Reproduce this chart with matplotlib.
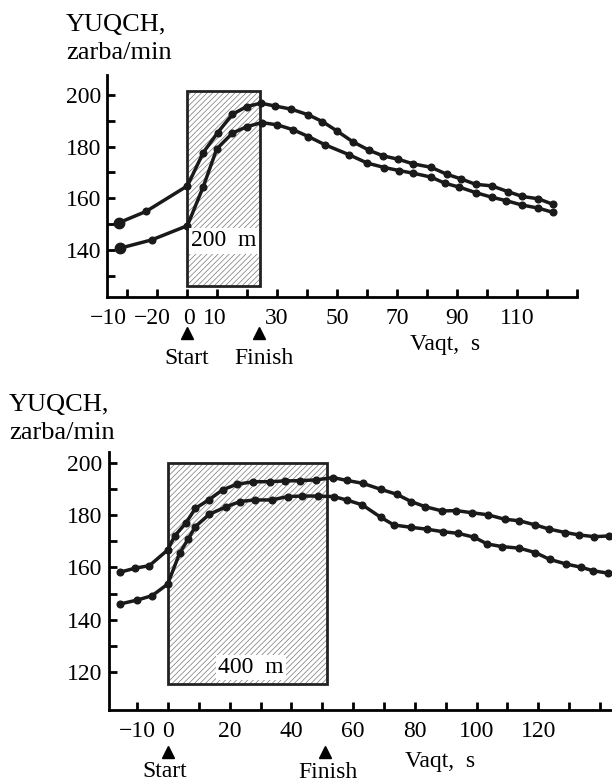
import numpy as np
import matplotlib
matplotlib.use("Agg")
import matplotlib.pyplot as plt
from matplotlib.patches import Rectangle

plt.rcParams['font.family'] = ['Liberation Serif', 'DejaVu Serif']
plt.rcParams['hatch.linewidth'] = 0.5

# ---- 200 m chart data ----
t200_up = [-22.6, -13.7, 0.1, 5.4, 10.2, 15.1, 19.9, 24.6, 29.3, 34.7, 40.4, 45.1, 49.9,
           55.2, 60.8, 65.4, 70.4, 75.4, 81.3, 86.6, 91.3, 96.2, 101.6, 106.9, 111.8,
           117.1, 121.9]
hr200_up = [150.6, 154.9, 164.8, 177.7, 185.4, 192.5, 195.5, 196.8, 195.7, 194.5, 192.3,
            189.7, 186.1, 181.9, 178.5, 176.4, 175.1, 173.3, 172.0, 169.3, 167.5, 165.4,
            164.8, 162.6, 160.7, 159.8, 157.7]
t200_lo = [-22.3, -11.8, 0.1, 5.4, 9.9, 15.1, 19.9, 24.9, 30.1, 35.4, 40.4, 46.0, 54.1,
           60.1, 65.8, 70.8, 75.4, 81.3, 86.0, 90.8, 96.2, 101.6, 106.3, 111.6, 117.1,
           122.1]
hr200_lo = [140.7, 143.9, 149.4, 164.5, 179.1, 185.2, 187.7, 189.3, 188.4, 186.5, 183.9,
            180.7, 176.8, 173.6, 171.9, 170.7, 169.7, 168.2, 165.8, 164.3, 162.2, 160.4,
            159.1, 157.4, 156.2, 154.5]
xlab200 = ['\u221210', '\u221220', '0', '10', '30', '50', '70', '90', '110']
xlabpos200 = [-26.3, -11.7, 0.5, 9.3, 30, 50, 70, 90, 110]

# ---- 400 m chart data ----
t400_up = [-15.5, -10.7, -6.0, -0.1, 2.2, 5.9, 8.9, 13.2, 17.7, 22.3, 27.7, 33.1, 37.9,
           42.7, 48.1, 53.5, 57.9, 63.1, 68.9, 74.1, 78.8, 83.4, 88.8, 93.5, 98.5, 103.7,
           109.1, 113.9, 119.1, 123.6, 128.8, 133.1, 138.2, 143.0]
hr400_up = [158.2, 159.7, 160.7, 166.7, 172.1, 177.2, 182.7, 185.9, 189.8, 191.9, 192.9,
            192.9, 193.2, 193.3, 193.6, 194.5, 193.4, 192.3, 190.0, 188.1, 185.3, 183.3,
            181.7, 181.8, 181.0, 180.2, 178.5, 177.9, 176.3, 174.7, 173.4, 172.5, 171.8,
            172.1]
t400_lo = [-15.5, -9.9, -5.1, -0.1, 3.8, 6.5, 8.9, 13.4, 18.9, 23.4, 28.2, 33.6, 38.8,
           43.5, 48.5, 53.7, 57.9, 63.0, 68.9, 73.2, 78.8, 83.8, 89.2, 94.0, 99.2, 103.5,
           108.3, 113.9, 119.1, 123.7, 129.1, 133.8, 137.9, 142.7]
hr400_lo = [146.0, 147.5, 149.2, 153.6, 165.5, 170.8, 175.7, 180.4, 183.3, 185.3, 185.9,
            185.9, 187.2, 187.4, 187.4, 187.2, 185.9, 184.0, 179.3, 176.3, 175.4, 174.7,
            173.7, 173.1, 171.6, 169.0, 168.0, 167.4, 165.7, 163.1, 161.3, 160.1, 158.7,
            157.8]
xt400 = list(range(-10, 141, 10))
xlab400 = ['\u221210', '0', '', '20', '', '40', '', '60', '', '80', '', '100', '', '120', '', '']

W, H = 612, 784
fig = plt.figure(figsize=(W / 100, H / 100), dpi=100)


def axes_px(l, t, r, b):
    return fig.add_axes([l / W, 1 - b / H, (r - l) / W, (b - t) / H])


def style(ax):
    for s in ['top', 'right']:
        ax.spines[s].set_visible(False)
    for s in ['left', 'bottom']:
        ax.spines[s].set_linewidth(2.0)
    ax.tick_params(direction='in', length=6, width=2.0, labelsize=17)
    ax.tick_params(which='minor', direction='in', length=6, width=2.0)


fs = 17
line = dict(color='#1a1a1a', lw=2.5, marker='o', ms=4.8, zorder=3)
hatch = '/' * 6

# ---------- top: 200 m ----------
ax1 = axes_px(107, 75, 577, 297)
style(ax1)
ax1.set_xlim(-26.7, 130)
ax1.set_ylim(121.8, 207.7)
ax1.set_xticks(range(-20, 131, 10))
ax1.set_xticklabels([])
ax1.set_yticks([140, 160, 180, 200])
ax1.set_yticks([130, 150, 170, 190], minor=True)
ax1.tick_params(axis='y', pad=4)

ax1.add_patch(Rectangle((0, 126.2), 24.3, 75.3, facecolor='white', edgecolor='#777777',
                        hatch=hatch, lw=0, zorder=1))
ax1.add_patch(Rectangle((0, 126.2), 24.3, 75.3, fill=False, edgecolor='#222222',
                        lw=2.0, zorder=2))
ax1.text(12.3, 143.5, '200  m', ha='center', va='center', fontsize=fs, zorder=4,
         bbox=dict(facecolor='white', edgecolor='none', pad=1.5))

ax1.plot(t200_up, hr200_up, **line)
ax1.plot(t200_lo, hr200_lo, **line)
ax1.plot([t200_up[0], t200_lo[0]], [hr200_up[0], hr200_lo[0]], 'o', color='#1a1a1a',
         ms=7.5, zorder=4)

tr1 = ax1.get_xaxis_transform()
for lab, xp in zip(xlab200, xlabpos200):
    ax1.text(xp, -0.095, lab, transform=tr1, ha='center', va='center', fontsize=fs)
ax1.plot([0, 24], [-0.162, -0.162], '^', color='black', ms=9, transform=tr1,
         clip_on=False)
ax1.text(0, -0.275, 'Start', transform=tr1, ha='center', va='center', fontsize=fs)
ax1.text(25.5, -0.275, 'Finish', transform=tr1, ha='center', va='center', fontsize=fs)
ax1.text(86, -0.216, 'Vaqt,  s', transform=tr1, ha='center', va='center', fontsize=fs)

fig.text(66 / W, 1 - 25 / H, 'YUQCH,', ha='left', va='center', fontsize=19)
fig.text(66 / W, 1 - 53 / H, 'zarba/min', ha='left', va='center', fontsize=19)

# ---------- bottom: 400 m ----------
ax2 = axes_px(109, 452, 612, 709.5)
style(ax2)
ax2.set_xlim(-19.1, 143.9)
ax2.set_ylim(105.5, 204.3)
ax2.set_xticks(xt400)
ax2.set_xticklabels(xlab400)
ax2.tick_params(axis='x', pad=8)
ax2.set_yticks([120, 140, 160, 180, 200])
ax2.set_yticks([130, 150, 170, 190], minor=True)
ax2.tick_params(axis='y', pad=5)

ax2.add_patch(Rectangle((0, 115.2), 51.5, 84.8, facecolor='white', edgecolor='#777777',
                        hatch=hatch, lw=0, zorder=1))
ax2.add_patch(Rectangle((0, 115.2), 51.5, 84.8, fill=False, edgecolor='#222222',
                        lw=2.0, zorder=2))
ax2.text(26.8, 121.7, '400  m', ha='center', va='center', fontsize=fs, zorder=4,
         bbox=dict(facecolor='white', edgecolor='none', pad=1.5))

ax2.plot(t400_up, hr400_up, clip_on=False, **line)
ax2.plot(t400_lo, hr400_lo, clip_on=False, **line)

tr2 = ax2.get_xaxis_transform()
ax2.plot([0, 51], [-0.164, -0.164], '^', color='black', ms=9, transform=tr2,
         clip_on=False)
ax2.text(-1, -0.241, 'Start', transform=tr2, ha='center', va='center', fontsize=fs)
ax2.text(52, -0.246, 'Finish', transform=tr2, ha='center', va='center', fontsize=fs)
ax2.text(88.2, -0.2, 'Vaqt,  s', transform=tr2, ha='center', va='center', fontsize=fs)

fig.text(9 / W, 1 - 405 / H, 'YUQCH,', ha='left', va='center', fontsize=19)
fig.text(9 / W, 1 - 433 / H, 'zarba/min', ha='left', va='center', fontsize=19)

fig.savefig('out.png', dpi=100)
